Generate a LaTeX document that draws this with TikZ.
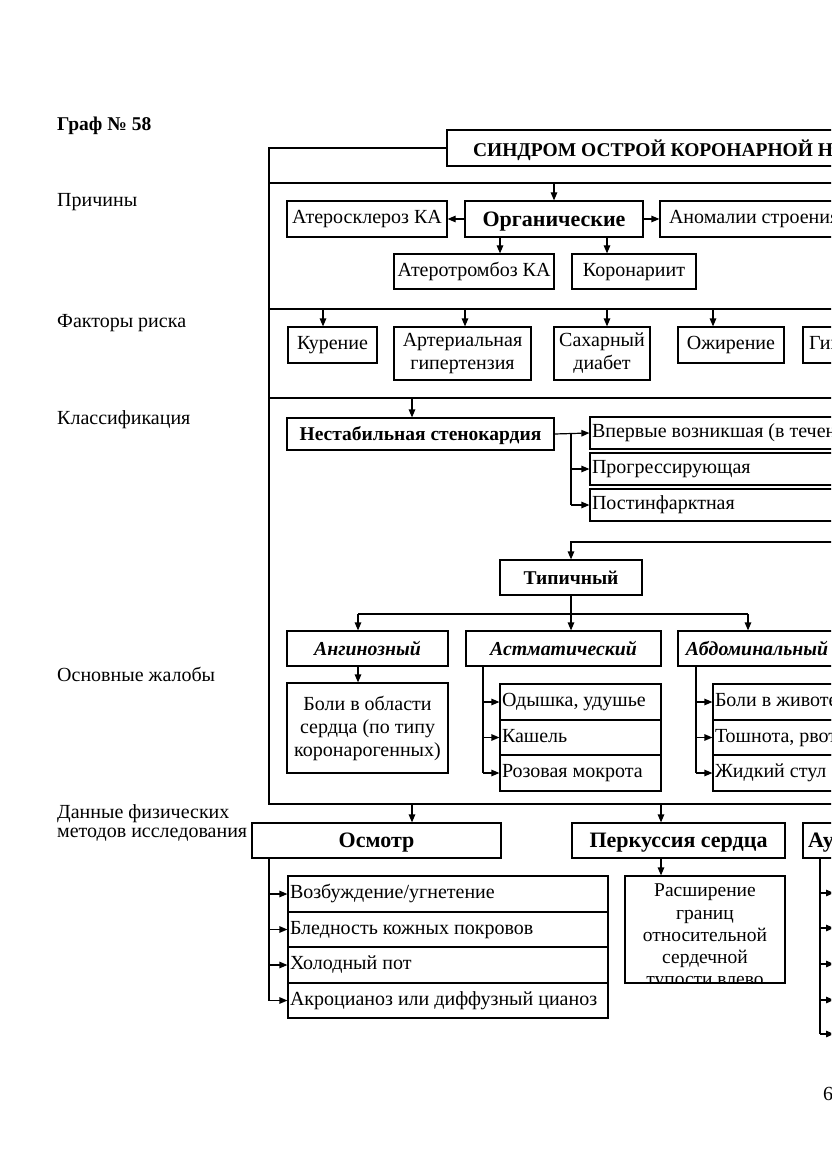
\documentclass[tikz,border=0pt]{standalone}
\usepackage{fontspec}
\setmainfont{Liberation Serif}
\usetikzlibrary{arrows.meta}
\newcommand\fs{\fontsize{20}{23}\selectfont}
\newcommand\fh{\fontsize{22}{25}\selectfont\bfseries}
\newcommand\fm{\fontsize{19.5}{23}\selectfont\bfseries}
\newcommand\fbi{\fontsize{19.8}{23}\selectfont\bfseries\itshape}
\newcommand\mkbox[7][sl]{\node[box,minimum width={(#5-#3)*1pt},minimum height={(#6-#4)*1pt},#1] (#2) at ({(#3+#5)/2},{(#4+#6)/2}) {#7};}
\newcommand\mkboxl[8][sl]{\node[box,align=flush left,inner xsep=#7pt,text width={(#5-#3-2*#7)*1pt},minimum width={(#5-#3)*1pt},minimum height={(#6-#4)*1pt},#1] (#2) at ({(#3+#5)/2},{(#4+#6)/2}) {#8};}
\begin{document}
\begin{tikzpicture}[x=1pt,y=-1pt,
 box/.style={draw,line width=1.2pt,fill=white,inner xsep=2pt,inner ysep=0pt,font=\fs,align=center},
 sl/.style={text height=13pt,text depth=4pt},
 slb/.style={text height=16pt,text depth=3pt},
 slh/.style={text height=17pt,text depth=3pt},
 slt/.style={text height=18pt,text depth=0pt},
 arr/.style={-{Triangle[length=8pt,width=6.5pt]},line width=1.2pt},
 ln/.style={line width=1.2pt},
 lbl/.style={anchor=base west,inner sep=0pt,font=\fs}]
\useasboundingbox (0,0) rectangle (831,1174);
\clip (0,0) rectangle (831,1174);
\fill[white] (0,0) rectangle (831,1174);

\node[lbl,font=\fontsize{19.5}{23}\selectfont\bfseries] (graf) at (57,131) {Граф № 58};
\node[lbl] (l1) at (57,207) {Причины};
\node[lbl] (l2) at (57,327) {Факторы риска};
\node[lbl] (l3) at (57,424) {Классификация};
\node[lbl] (l4) at (57,681) {Основные жалобы};
\node[lbl] (l5) at (57,818) {Данные физических};
\node[lbl] (l6) at (57,837) {методов исследования};

% frame
\draw[ln] (269,148) rectangle (1100,804);
\foreach \y in {183,309,398} \draw[ln] (269,\y) -- (1100,\y);
\mkboxl[font=\fm,slt]{title}{447}{130}{1100}{166}{26}{СИНДРОМ ОСТРОЙ КОРОНАРНОЙ НЕДОСТАТОЧНОСТИ}

% causes
\coordinate (d1) at (554,183);
\mkbox{ath}{287}{201}{447}{237}{Атеросклероз КА}
\mkbox[font=\fh,slh]{org}{465}{201}{643}{237}{Органические}
\mkboxl{anom}{660}{201}{1100}{237}{9}{Аномалии строения КА}
\mkbox{athr}{394}{254}{554}{289}{Атеротромбоз КА}
\mkbox{cor}{572}{254}{696}{289}{Коронариит}
\draw[arr] (d1) -- (org.north);
\draw[arr] (org.west) -- (ath.east);
\draw[arr] (org.east) -- (anom.west);
\draw[arr] (org.south -| 500,0) -- (athr.north -| 500,0);
\draw[arr] (org.south -| 607,0) -- (cor.north -| 607,0);

% risk factors
\mkbox{kur}{288}{327}{377}{363}{Курение}
\mkbox[]{ag}{394}{327}{531}{380}{Артериальная\\гипертензия}
\mkbox[]{sd}{554}{327}{650}{380}{Сахарный\\диабет}
\mkbox{ozh}{678}{327}{784}{363}{Ожирение}
\mkboxl{gip}{803}{327}{1100}{363}{6}{Гиперхолестеринемия}
\foreach \x/\n in {323/kur,465/ag,607/sd,713/ozh}
  \draw[arr] (\x,309) -- (\n.north -| \x,0);

% classification
\coordinate (k1) at (412,398);
\mkbox[font=\fm,slb]{nest}{287}{418}{554}{450}{Нестабильная стенокардия}
\draw[arr] (k1) -- (k1 |- nest.north);
\mkboxl{v1}{590}{417}{1100}{449}{2}{Впервые возникшая (в течение 1 месяца)}
\mkboxl{v2}{590}{453}{1100}{485}{2}{Прогрессирующая}
\mkboxl{v3}{590}{489}{1100}{521}{2}{Постинфарктная}
\coordinate (nb) at (571,434);
\draw[arr] (nest.east) -- (v1.west);
\draw[ln] (nb) -- (nb |- v3.west);
\draw[arr] (nb |- v2.west) -- (v2.west);
\draw[arr] (nb |- v3.west) -- (v3.west);

% complaints
\coordinate (tin) at (1100,542);
\coordinate (tc) at (571,542);
\mkbox[font=\fm,slb]{tip}{500}{560}{642}{595}{Типичный}
\draw[arr] (tin) -- (tc) -- (tc |- tip.north);
\coordinate (br) at (571,614);
\draw[ln] (tip.south -| br) -- (br);
\draw[ln] (358,614) -- (748,614);
\mkbox[font=\fbi,slb]{ang}{287}{631}{448}{666}{Ангинозный}
\mkbox[font=\fbi,slb]{ast}{466}{631}{661}{666}{Астматический}
\mkbox[font=\fbi,slb]{abd}{678}{631}{836}{666}{Абдоминальный}
\draw[arr] (358,614) -- (ang.north -| 358,0);
\draw[arr] (br) -- (ast.north -| br);
\draw[arr] (748,614) -- (abd.north -| 748,0);
\mkbox[]{boli}{287}{683}{448}{773}{Боли в области\\сердца (по типу\\коронарогенных)}
\draw[arr] (ang.south -| 358,0) -- (boli.north -| 358,0);
\mkboxl{a1}{500}{684}{661}{720}{2}{Одышка, удушье}
\mkboxl{a2}{500}{720}{661}{755}{2}{Кашель}
\mkboxl{a3}{500}{755}{661}{791}{2}{Розовая мокрота}
\draw[ln] (ast.south -| 483,0) -- (a3.west -| 483,0);
\foreach \n in {a1,a2,a3} \draw[arr] (\n.west -| 483,0) -- (\n.west);
\mkboxl{b1}{713}{684}{1100}{720}{2}{Боли в животе}
\mkboxl{b2}{713}{720}{1100}{755}{2}{Тошнота, рвота}
\mkboxl{b3}{713}{755}{1100}{791}{2}{Жидкий стул}
\draw[ln] (abd.south -| 696,0) -- (b3.west -| 696,0);
\foreach \n in {b1,b2,b3} \draw[arr] (\n.west -| 696,0) -- (\n.west);

% physical examination
\coordinate (e1) at (412,804);
\coordinate (e2) at (661,804);
\mkbox[font=\fh,slh]{osm}{252}{823}{501}{858}{Осмотр}
\mkbox[font=\fh,slh]{perk}{572}{823}{785}{858}{Перкуссия сердца}
\mkboxl[font=\fh,slh]{ausk}{803}{823}{1100}{858}{5}{Аускультация сердца}
\draw[arr] (e1) -- (e1 |- osm.north);
\draw[arr] (e2) -- (e2 |- perk.north);
\mkboxl{o1}{288}{876}{608}{912}{2}{Возбуждение/угнетение}
\mkboxl{o2}{288}{912}{608}{947}{2}{Бледность кожных покровов}
\mkboxl{o3}{288}{947}{608}{983}{2}{Холодный пот}
\mkboxl{o4}{288}{983}{608}{1018}{2}{Акроцианоз или диффузный цианоз}
\draw[ln] (osm.south -| 269,0) -- (o4.west -| 269,0);
\foreach \n in {o1,o2,o3,o4} \draw[arr] (\n.west -| 269,0) -- (\n.west);

\node[box,minimum width=160pt,minimum height=107pt] (ras) at (705,929.5) {};
\begin{scope}
\clip (ras.south west) rectangle (ras.north east);
\node[font=\fontsize{19.5}{22.2}\selectfont,align=center,anchor=north,inner sep=0pt] (rast) at (705,884) {Расширение\\границ\\относительной\\сердечной\\тупости влево};
\end{scope}
\draw[ln] (ras.south west) rectangle (ras.north east);
\draw[arr] (perk.south -| 661,0) -- (ras.north -| 661,0);

\draw[ln] (ausk.south -| 820,0) -- (820,1034);
\foreach \y [count=\i] in {893,928,964,1000,1034} {
  \coordinate (u\i) at (834,\y);
  \draw[arr] (820,\y) -- (u\i);
}

\node[lbl] (pg) at (823,1100) {6};
\end{tikzpicture}
\end{document}
